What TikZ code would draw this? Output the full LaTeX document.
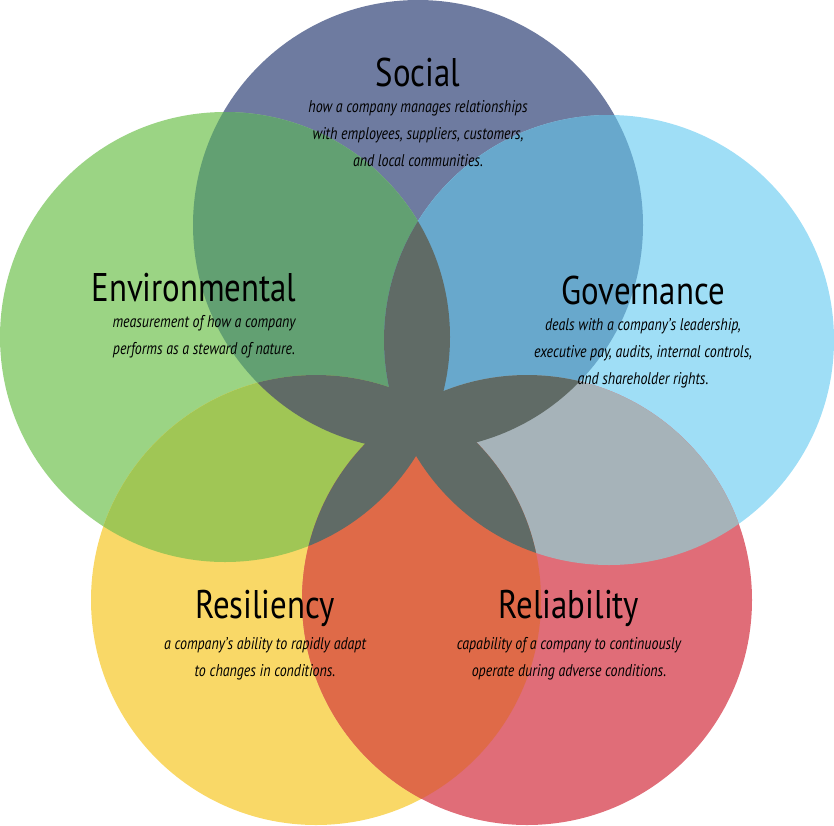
\documentclass[tikz,border=0pt]{standalone}
\usepackage{fontspec}
\setmainfont{PT Sans}[FakeStretch=0.82]
\begin{document}
\begin{tikzpicture}[x=1pt,y=-1pt,
  ttl/.style={font=\fontsize{40}{42}\selectfont,text=black},
  bdy/.style={font=\fontsize{17}{27}\selectfont\itshape,align=center,text=black}]
\useasboundingbox (0,0) rectangle (834,825);
\def\cS{(418,225) circle (225)}
\def\cE{(225,337) circle (225)}
\def\cG{(609,340) circle (225)}
\def\cR{(316,600) circle (225)}
\def\cL{(527,600) circle (225)}
\fill[fill={rgb,255:red,110;green,123;blue,160}] \cS;
\fill[fill={rgb,255:red,155;green,212;blue,132}] \cE;
\fill[fill={rgb,255:red,159;green,222;blue,246}] \cG;
\fill[fill={rgb,255:red,249;green,216;blue,103}] \cR;
\fill[fill={rgb,255:red,224;green,109;blue,120}] \cL;
\begin{scope}\clip \cS; \fill[fill={rgb,255:red,98;green,160;blue,114}] \cE; \end{scope}
\begin{scope}\clip \cS; \fill[fill={rgb,255:red,104;green,168;blue,204}] \cG; \end{scope}
\begin{scope}\clip \cG; \fill[fill={rgb,255:red,166;green,179;blue,185}] \cL; \end{scope}
\begin{scope}\clip \cE; \fill[fill={rgb,255:red,160;green,198;blue,85}] \cR; \end{scope}
\begin{scope}\clip \cR; \fill[fill={rgb,255:red,223;green,106;blue,72}] \cL; \end{scope}
\foreach \a/\b/\c in {\cS/\cE/\cG,\cS/\cE/\cR,\cS/\cE/\cL,\cS/\cG/\cR,\cS/\cG/\cL,\cS/\cR/\cL,\cE/\cG/\cR,\cE/\cG/\cL,\cE/\cR/\cL,\cG/\cR/\cL}{
  \begin{scope}\clip \a; \clip \b; \fill[fill={rgb,255:red,96;green,107;blue,102}] \c; \end{scope}}
\node[ttl] (st) at (418,72) {Social};
\node[bdy] (sb) at (418,134) {how a company manages relationships\\with employees, suppliers, customers,\\and local communities.};
\node[ttl,anchor=west] (et) at (88,288) {Environmental};
\node[bdy] (eb) at (204,337) {measurement of how a company\\performs as a steward of nature.};
\node[ttl] (gt) at (643,290) {Governance};
\node[bdy] (gb) at (643,353) {deals with a company’s leadership,\\executive pay, audits, internal controls,\\and shareholder rights.};
\node[ttl] (rt) at (265,608) {Resiliency};
\node[bdy] (rb) at (265,659) {a company’s ability to rapidly adapt\\to changes in conditions.};
\node[ttl] (lt) at (569,608) {Reliability};
\node[bdy] (lb) at (569,659) {capability of a company to continuously\\operate during adverse conditions.};
\end{tikzpicture}
\end{document}
